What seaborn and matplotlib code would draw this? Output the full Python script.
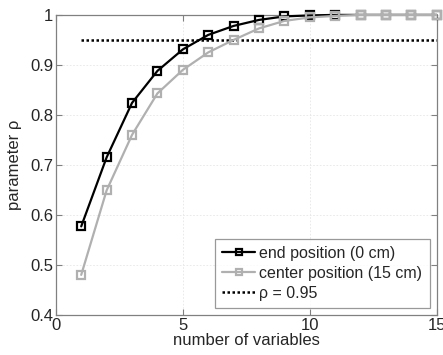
import matplotlib
matplotlib.use("Agg")
import matplotlib.pyplot as plt
import seaborn as sns
import pandas as pd
import numpy as np

n_vars = list(range(1, 16))
end_pos = [0.577, 0.715, 0.824, 0.888, 0.931, 0.960, 0.978, 0.990, 0.997, 0.999, 1.0, 1.0, 1.0, 1.0, 1.0]
center_pos = [0.480, 0.649, 0.760, 0.843, 0.890, 0.925, 0.950, 0.973, 0.988, 0.995, 0.998, 1.0, 1.0, 1.0, 1.0]
thresh_x = [1, 15]
thresh_y = [0.95, 0.95]
labels = ["end position (0 cm)", "center position (15 cm)", "\u03c1 = 0.95"]

sns.set_style("white")
plt.rcParams['font.family'] = ['Liberation Sans', 'DejaVu Sans']

fig = plt.figure(figsize=(4.43, 3.55), dpi=100)
ax = fig.add_axes([0.126, 0.113, 0.860, 0.845])

df1 = pd.DataFrame({"x": n_vars, "y": end_pos})
df2 = pd.DataFrame({"x": n_vars, "y": center_pos})
dft = pd.DataFrame({"x": thresh_x, "y": thresh_y})

sns.lineplot(data=df1, x="x", y="y", ax=ax, color="black", lw=1.6, marker="s",
             markersize=5.5, markerfacecolor="none", markeredgecolor="black",
             markeredgewidth=1.6, label=labels[0], zorder=3)
sns.lineplot(data=df2, x="x", y="y", ax=ax, color="#b0b0b0", lw=1.6, marker="s",
             markersize=5.5, markerfacecolor="none", markeredgecolor="#b0b0b0",
             markeredgewidth=1.6, label=labels[1], zorder=4)
sns.lineplot(data=dft, x="x", y="y", ax=ax, color="black", lw=1.8, ls=(0, (1, 1)),
             label=labels[2], zorder=2)

ax.set_xlim(0, 15)
ax.set_ylim(0.4, 1.0)
ax.set_xticks([0, 5, 10, 15])
ax.set_yticks([0.4, 0.5, 0.6, 0.7, 0.8, 0.9, 1.0])
ax.set_yticklabels(["0.4", "0.5", "0.6", "0.7", "0.8", "0.9", "1"])
ax.tick_params(direction="in", length=4, labelsize=12, color="#808080", width=0.8,
               top=True, right=True, bottom=True, left=True, pad=2)
ax.grid(True, ls=(0, (2, 2)), color="#e6e6e6", lw=0.6)
for s in ax.spines.values():
    s.set_color("#808080")
    s.set_linewidth(0.9)
ax.set_xlabel("number of variables", fontsize=12, labelpad=0)
ax.set_ylabel("parameter \u03c1", fontsize=12, labelpad=6)

leg = ax.legend(loc="lower right", fontsize=11.5, frameon=True, fancybox=False,
                edgecolor="#808080", borderaxespad=0.45, handlelength=2.1,
                handletextpad=0.25, borderpad=0.45, labelspacing=0.3,
                markerscale=0.8)
leg.get_frame().set_linewidth(0.9)
for line in ax.get_lines():
    line.set_clip_on(False)

fig.savefig("out.png", dpi=100)
